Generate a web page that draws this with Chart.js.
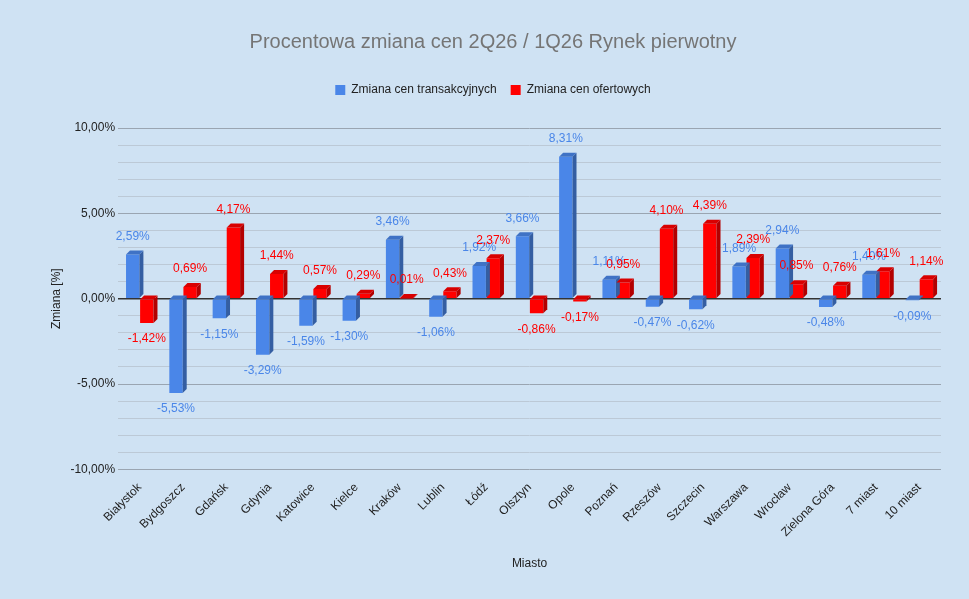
<!DOCTYPE html>
<html><head><meta charset="utf-8">
<script src="https://cdn.jsdelivr.net/npm/chart.js@4"></script>
<style>html,body{margin:0;background:#cfe2f3}#w{width:969px;height:599px}</style>
</head><body><div id="w"><canvas id="c"></canvas></div>
<script>
const categories=["Białystok","Bydgoszcz","Gdańsk","Gdynia","Katowice","Kielce","Kraków","Lublin","Łódź","Olsztyn","Opole","Poznań","Rzeszów","Szczecin","Warszawa","Wrocław","Zielona Góra","7 miast","10 miast"];
const transakcyjne=[2.59,-5.53,-1.15,-3.29,-1.59,-1.30,3.46,-1.06,1.92,3.66,8.31,1.11,-0.47,-0.62,1.89,2.94,-0.48,1.40,-0.09];
const ofertowe=[-1.42,0.69,4.17,1.44,0.57,0.29,0.01,0.43,2.37,-0.86,-0.17,0.95,4.10,4.39,2.39,0.85,0.76,1.61,1.14];
const fmt=v=>v.toFixed(2).replace('.',',')+'%';
function shade(hex,f){const n=parseInt(hex.slice(1),16);let r=n>>16,g=(n>>8)&255,b=n&255;return `rgb(${Math.round(r*f)},${Math.round(g*f)},${Math.round(b*f)})`;}
const depth=4;
const bars3d={id:'b3',afterDatasetsDraw(ch){const ctx=ch.ctx;
 ch.data.datasets.forEach((ds,i)=>{ch.getDatasetMeta(i).data.forEach((el,j)=>{
  const w=el.width,l=el.x-w/2,r=el.x+w/2,top=Math.min(el.y,el.base),bot=Math.max(el.y,el.base);
  ctx.save();ctx.fillStyle=shade(ds.backgroundColor,0.7);
  ctx.beginPath();ctx.moveTo(r,top);ctx.lineTo(r+depth,top-depth);ctx.lineTo(r+depth,bot-depth);ctx.lineTo(r,bot);ctx.fill();
  ctx.fillStyle=shade(ds.backgroundColor,0.85);
  ctx.beginPath();ctx.moveTo(l,top);ctx.lineTo(l+depth,top-depth);ctx.lineTo(r+depth,top-depth);ctx.lineTo(r,top);ctx.fill();
  const v=ds.data[j];ctx.fillStyle=ds.labelColor;ctx.font='12px Arial, "Liberation Sans"';ctx.textAlign='center';
  if(v>=0){ctx.textBaseline='bottom';ctx.fillText(fmt(v),el.x,top-depth-8);}else{ctx.textBaseline='top';ctx.fillText(fmt(v),el.x,bot+10);}
  ctx.restore();});});}};
const legendGap={id:'lg',beforeInit(ch){const f=ch.legend.fit;ch.legend.fit=function(){f.bind(ch.legend)();this.height+=22;};}};
new Chart(document.getElementById('c'),{type:'bar',
 data:{labels:categories,datasets:[
  {label:'Zmiana cen transakcyjnych',data:transakcyjne,backgroundColor:'#4a86e8',labelColor:'#4a86e8',barPercentage:0.95,categoryPercentage:0.65},
  {label:'Zmiana cen ofertowych',data:ofertowe,backgroundColor:'#ff0000',labelColor:'#ff0000',barPercentage:0.95,categoryPercentage:0.65}]},
 options:{responsive:true,maintainAspectRatio:false,animation:false,
  layout:{padding:{left:45,right:28,top:30,bottom:24}},
  plugins:{title:{display:true,text:'Procentowa zmiana cen 2Q26 / 1Q26 Rynek pierwotny',color:'#757575',font:{size:20,family:'Arial, "Liberation Sans"',weight:'normal'},padding:{bottom:16}},
   legend:{labels:{usePointStyle:true,pointStyle:'rect',boxWidth:10,boxHeight:10,color:'#222',font:{size:12,family:'Arial, "Liberation Sans"'},padding:14}},tooltip:{enabled:false}},
  scales:{x:{grid:{display:false},border:{display:false},title:{display:true,text:'Miasto',color:'#222',font:{size:12,family:'Arial, "Liberation Sans"'},padding:{top:14}},
    ticks:{color:'#222',maxRotation:45,minRotation:45,font:{size:12,family:'Arial, "Liberation Sans"'}}},
   y:{min:-10,max:10,border:{display:false},title:{display:true,text:'Zmiana [%]',color:'#222',font:{size:12,family:'Arial, "Liberation Sans"'}},
    ticks:{stepSize:1,autoSkip:false,color:'#222',font:{size:12,family:'Arial, "Liberation Sans"'},callback:v=>v%5===0?v.toFixed(2).replace('.',',')+'%':''},
    grid:{drawTicks:false,color:c=>c.tick.value===0?'#333':(c.tick.value%5===0?'#9aa5b1':'#bcc9d6'),lineWidth:c=>c.tick.value===0?1.5:1}}}},
 plugins:[bars3d,legendGap]});
</script></body></html>
